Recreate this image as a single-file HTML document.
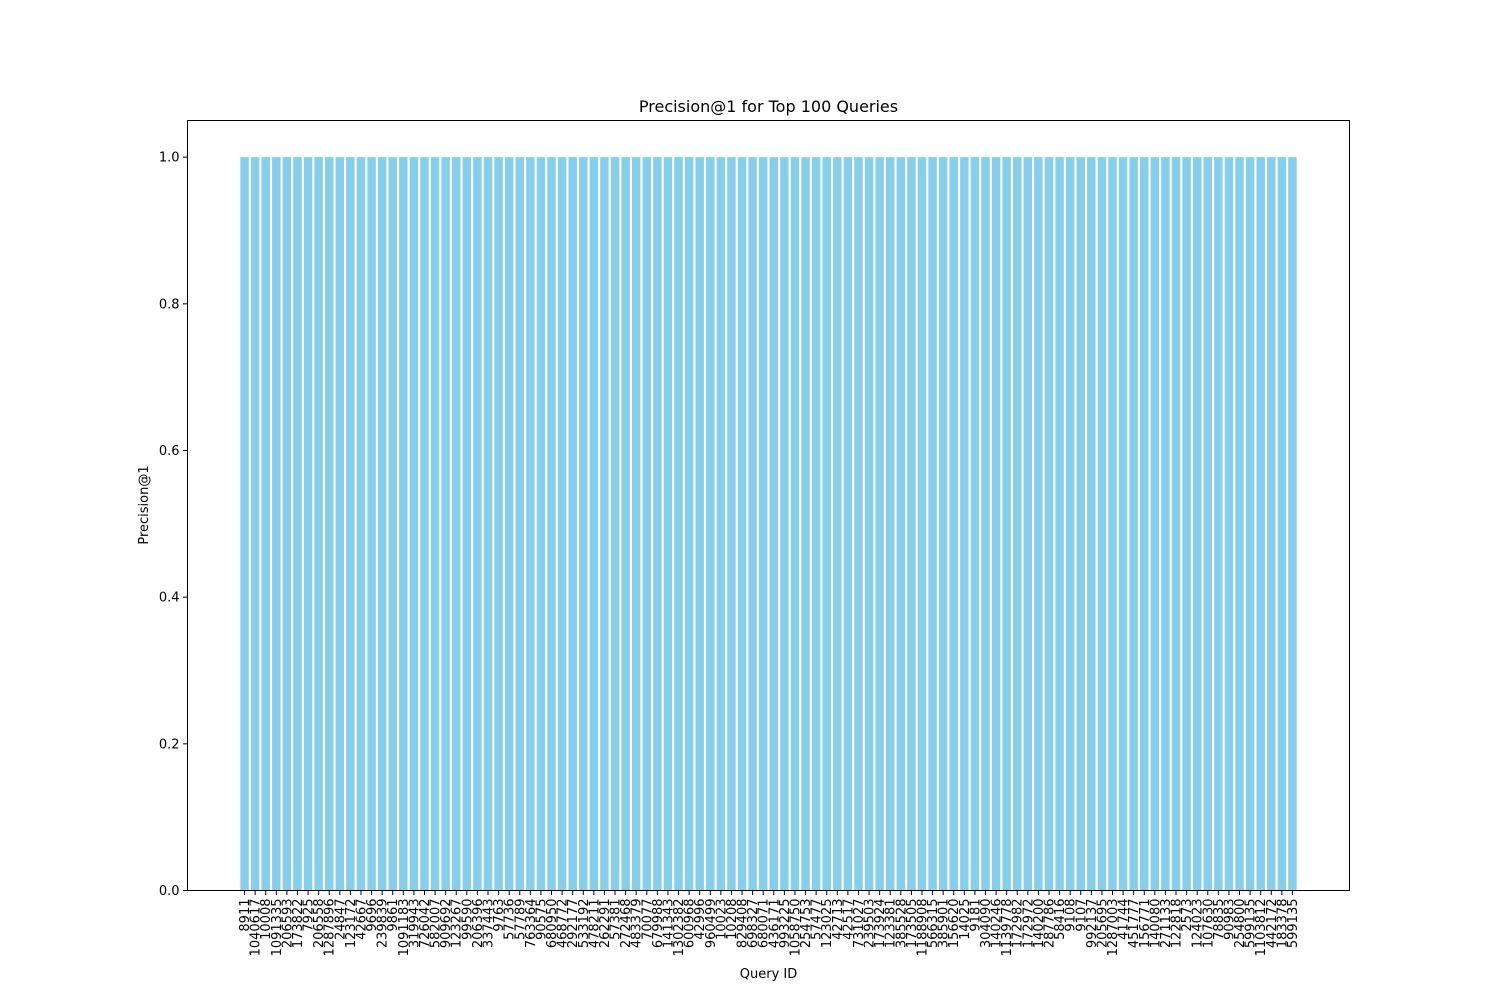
<!DOCTYPE html>
<html><head><meta charset="utf-8"><style>
body{margin:0;background:#fff;}
svg{display:block;font-family:"DejaVu Sans","Liberation Sans",sans-serif;}
</style></head><body>
<svg id="chart" width="1500" height="1000" viewBox="0 0 1500 1000" xmlns="http://www.w3.org/2000/svg">
<rect width="1500" height="1000" fill="#fff"/>
<text x="768.5" y="112" text-anchor="middle" font-size="16">Precision@1 for Top 100 Queries</text>
<g id="bars"></g><g id="yticks"></g><g id="xticks"></g>
<rect x="187.5" y="120.5" width="1162" height="770" fill="none" stroke="#000" stroke-width="1"/>
<text transform="translate(148,505) rotate(-90)" text-anchor="middle" font-size="13">Precision@1</text>
<text x="768.5" y="978" text-anchor="middle" font-size="13">Query ID</text>
</svg>
<script>
const queryIds=["8911","1040617","10008","1091335","206593","173822","7925","206558","1287896","24847","123172","42667","9696","239839","9861","1091183","319943","726042","582007","909692","123267","99590","206396","337443","9763","57736","57789","763364","90575","680950","468772","292177","533192","478211","262291","57381","272468","483379","70077","679988","141343","1302382","600968","42996","960499","10023","10208","829408","698327","680071","436171","993225","1058750","254753","57477","123025","42713","42517","731027","239503","173924","123381","385528","173505","1188908","566315","385901","156620","14025","9181","304090","140246","1139778","172982","172972","140200","287786","58416","9108","9107","992137","205695","1287003","41744","451777","156771","140080","271133","122818","2573","124023","107630","78835","90983","254800","599135","1103812","442172","183378","599135"];
const precision=queryIds.map(()=>1.0);
const yTicks=[0,0.2,0.4,0.6,0.8,1.0];
const yMax=1.05;
const NS="http://www.w3.org/2000/svg";
const L=187.5,R=1349.5,T=120.5,B=890.5;
const n=queryIds.length;
const xmin=-0.4-0.05*(n-1+0.8), xmax=n-1+0.4+0.05*(n-1+0.8);
const xS=v=>L+(v-xmin)/(xmax-xmin)*(R-L);
const yS=v=>B-v/yMax*(B-T);
const bars=document.getElementById('bars'),xt=document.getElementById('xticks'),yt=document.getElementById('yticks');
precision.forEach((v,i)=>{
  const r=document.createElementNS(NS,'rect');
  
  
  const x0=xS(i-0.4),x1=xS(i+0.4);
  r.setAttribute('x',x0);r.setAttribute('width',x1-x0);
  r.setAttribute('y',yS(v));r.setAttribute('height',yS(0)-yS(v));
  r.setAttribute('fill','#87ceeb');bars.appendChild(r);
  const ln=document.createElementNS(NS,'line');
  
  
  ln.setAttribute('x1',xS(i));ln.setAttribute('x2',xS(i));ln.setAttribute('y1',B);ln.setAttribute('y2',B+4.5);
  ln.setAttribute('stroke','#000');xt.appendChild(ln);
  const t=document.createElementNS(NS,'text');
  
  
  t.setAttribute('transform','translate('+(xS(i)+4.5)+','+(B+8)+') rotate(-90)');
  t.setAttribute('text-anchor','end');t.setAttribute('font-size','13');
  t.textContent=queryIds[i];xt.appendChild(t);
});
yTicks.forEach(v=>{
  const ln=document.createElementNS(NS,'line');
  
  
  ln.setAttribute('x1',L-4.5);ln.setAttribute('x2',L);ln.setAttribute('y1',yS(v));ln.setAttribute('y2',yS(v));
  ln.setAttribute('stroke','#000');yt.appendChild(ln);
  const t=document.createElementNS(NS,'text');
  
  
  t.setAttribute('x',L-8);t.setAttribute('y',yS(v)+4.5);
  t.setAttribute('text-anchor','end');t.setAttribute('font-size','13');
  t.textContent=v.toFixed(1);yt.appendChild(t);
});
</script>
</body></html>
